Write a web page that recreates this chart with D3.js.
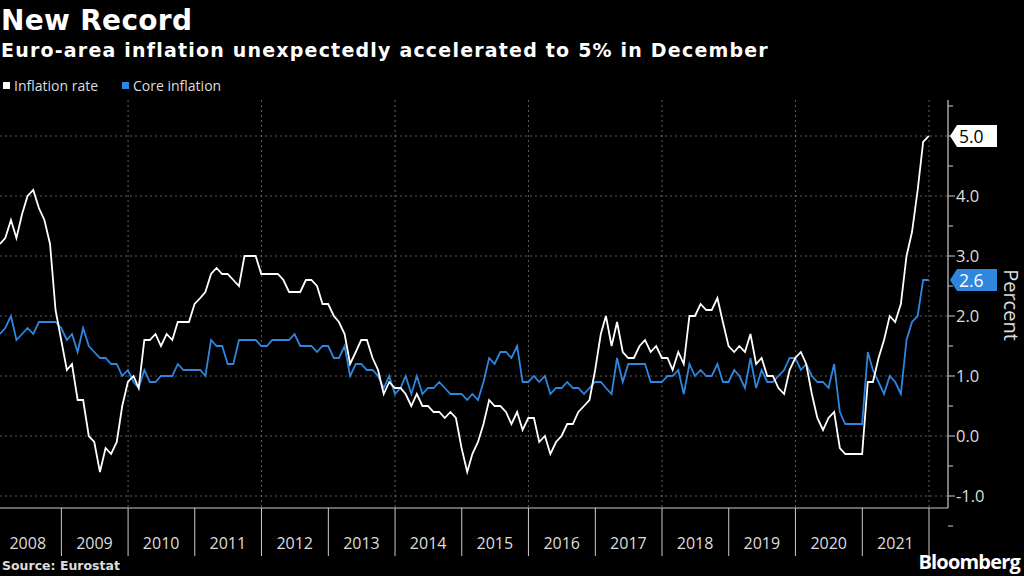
<!DOCTYPE html>
<html><head><meta charset="utf-8">
<script src="https://cdn.jsdelivr.net/npm/d3@7"></script>
<style>body{margin:0;background:#000}svg{display:block}</style>
</head><body><svg id="c" width="1024" height="576"></svg>
<script>
const years = [2008,2009,2010,2011,2012,2013,2014,2015,2016,2017,2018,2019,2020,2021];
const headline = [
 3.2,3.3,3.6,3.3,3.7,4.0,4.1,3.8,3.6,3.2,2.1,1.6,
 1.1,1.2,0.6,0.6,0.0,-0.1,-0.6,-0.2,-0.3,-0.1,0.5,0.9,
 1.0,0.8,1.6,1.6,1.7,1.5,1.7,1.6,1.9,1.9,1.9,2.2,
 2.3,2.4,2.7,2.8,2.7,2.7,2.6,2.5,3.0,3.0,3.0,2.7,
 2.7,2.7,2.7,2.6,2.4,2.4,2.4,2.6,2.6,2.5,2.2,2.2,
 2.0,1.9,1.7,1.2,1.4,1.6,1.6,1.3,1.1,0.7,0.9,0.8,
 0.8,0.7,0.5,0.7,0.5,0.5,0.4,0.4,0.3,0.4,0.3,-0.2,
 -0.6,-0.3,-0.1,0.2,0.6,0.5,0.5,0.4,0.2,0.4,0.1,0.3,
 0.3,-0.1,0.0,-0.3,-0.1,0.0,0.2,0.2,0.4,0.5,0.6,1.1,
 1.7,2.0,1.5,1.9,1.4,1.3,1.3,1.5,1.6,1.4,1.5,1.3,
 1.3,1.1,1.4,1.2,2.0,2.0,2.2,2.1,2.1,2.3,1.9,1.5,
 1.4,1.5,1.4,1.7,1.2,1.3,1.0,1.0,0.8,0.7,1.1,1.3,
 1.4,1.2,0.7,0.3,0.1,0.3,0.4,-0.2,-0.3,-0.3,-0.3,-0.3,
 0.9,0.9,1.3,1.6,2.0,1.9,2.2,3.0,3.4,4.1,4.9,5.0];
const core = [
 1.7,1.8,2.0,1.6,1.7,1.8,1.7,1.9,1.9,1.9,1.9,1.8,
 1.6,1.7,1.4,1.8,1.5,1.4,1.3,1.3,1.2,1.2,1.0,1.1,
 0.9,0.8,1.1,0.9,0.9,1.0,1.0,1.0,1.2,1.1,1.1,1.1,
 1.1,1.0,1.6,1.5,1.5,1.2,1.2,1.6,1.6,1.6,1.6,1.5,
 1.5,1.6,1.6,1.6,1.6,1.7,1.5,1.5,1.5,1.4,1.5,1.5,
 1.3,1.3,1.5,1.0,1.2,1.2,1.1,1.1,1.0,0.8,1.0,0.7,
 0.8,1.0,0.7,1.0,0.7,0.8,0.8,0.9,0.8,0.7,0.7,0.7,
 0.6,0.7,0.6,0.9,1.3,1.2,1.4,1.4,1.3,1.5,0.9,0.9,
 1.0,0.9,1.0,0.7,0.8,0.8,0.9,0.8,0.8,0.7,0.8,0.9,
 0.9,0.8,0.7,1.3,0.9,1.2,1.2,1.2,1.2,0.9,0.9,0.9,
 1.0,1.0,1.1,0.7,1.2,1.0,1.1,1.0,1.0,1.2,0.9,0.9,
 1.1,1.0,0.8,1.3,0.8,1.1,0.9,0.9,1.0,1.1,1.3,1.3,
 1.1,1.2,1.0,0.9,0.9,0.8,1.2,0.4,0.2,0.2,0.2,0.2,
 1.4,1.1,0.9,0.7,1.0,0.9,0.7,1.6,1.9,2.0,2.6,2.6];
const yTicks = [-1,0,1,2,3,4,5];

const svg = d3.select("#c");
const F = "'Open Sans','Liberation Sans',Arial,sans-serif";
const FB = "'DejaVu Sans',Verdana,sans-serif";
const x = d3.scaleTime().domain([new Date(2008,0,1), new Date(2022,0,1)]).range([-5.5,929]);
const y = d3.scaleLinear().domain([-1,5]).range([496,136]);
const dateOf = i => new Date(2008+Math.floor(i/12), i%12+1, 0);
const pts = arr => arr.map((v,i)=>[dateOf(i), v]);

svg.append("rect").attr("width",1024).attr("height",576).attr("fill","#000");
svg.append("text").attr("x",1).attr("y",30).attr("fill","#fff").attr("font-family",FB).attr("font-weight","bold").attr("font-size",28).attr("letter-spacing",0.3).text("New Record");
svg.append("text").attr("x",1).attr("y",57).attr("fill","#fff").attr("font-family",FB).attr("font-weight","bold").attr("font-size",19).attr("letter-spacing",1.2).text("Euro-area inflation unexpectedly accelerated to 5% in December");
const lg = svg.append("g").attr("font-family",F).attr("font-size",14).attr("fill","#ddd");
lg.append("rect").attr("x",3).attr("y",82).attr("width",7).attr("height",7).attr("fill","#fff");
lg.append("text").attr("x",14).attr("y",91).text("Inflation rate");
lg.append("rect").attr("x",122).attr("y",82).attr("width",7).attr("height",7).attr("fill","#2e86de");
lg.append("text").attr("x",133).attr("y",91).text("Core inflation");

const g = svg.append("g");
g.selectAll(".hg").data(yTicks).join("line").attr("x1",0).attr("x2",948).attr("y1",d=>y(d)).attr("y2",d=>y(d))
 .attr("stroke","#777").attr("stroke-width",0.8).attr("stroke-dasharray","2,3");
const vg = [2010,2012,2014,2016,2018,2020,2022];
g.selectAll(".vg").data(vg).join("line").attr("x1",d=>x(new Date(d,0,1))).attr("x2",d=>x(new Date(d,0,1))).attr("y1",100).attr("y2",508)
 .attr("stroke","#777").attr("stroke-width",0.8).attr("stroke-dasharray","2,3");

const ya = svg.append("g").attr("transform","translate(948,0)");
ya.append("line").attr("y1",100).attr("y2",508).attr("stroke","#ccc").attr("stroke-width",1.2);
const minor = d3.range(-1.5,5.6,0.5);
ya.selectAll(".t").data(minor).join("line").attr("x1",0).attr("x2",d=>Number.isInteger(d)?7:5).attr("y1",d=>y(d)).attr("y2",d=>y(d)).attr("stroke","#ccc");
ya.selectAll(".l").data(yTicks.filter(d=>d!==5)).join("text").attr("x",8).attr("y",d=>y(d)+6).attr("fill","#ddd").attr("font-family",F).attr("font-size",16.5).text(d=>d.toFixed(1));
svg.append("text").attr("transform","translate(1004,305) rotate(90)").attr("text-anchor","middle").attr("fill","#ddd").attr("font-family",F).attr("font-size",20).text("Percent");

const xa = svg.append("g");
xa.append("line").attr("x1",0).attr("x2",948).attr("y1",508).attr("y2",508).attr("stroke","#ccc");
xa.selectAll(".sep").data(years.slice(1).concat([2022])).join("line").attr("x1",d=>x(new Date(d,0,1))).attr("x2",d=>x(new Date(d,0,1))).attr("y1",508).attr("y2",556).attr("stroke","#ccc");
xa.selectAll(".yl").data(years).join("text").attr("x",d=>x(new Date(d,6,1))).attr("y",549).attr("text-anchor","middle").attr("fill","#ddd").attr("font-family",F).attr("font-size",16).text(d=>d);

const line = d3.line().x(d=>x(d[0])).y(d=>y(d[1]));
svg.append("path").datum(pts(core)).attr("d",line).attr("fill","none").attr("stroke","#2e86de").attr("stroke-width",1.8);
svg.append("path").datum(pts(headline)).attr("d",line).attr("fill","none").attr("stroke","#fff").attr("stroke-width",1.8);

function tag(v,bg,fg){
  const yy=y(v);
  svg.append("path").attr("d",`M950,${yy} L957,${yy-11} L997,${yy-11} L997,${yy+11} L957,${yy+11} Z`).attr("fill",bg);
  svg.append("text").attr("x",959).attr("y",yy+6.5).attr("fill",fg).attr("font-family",F).attr("font-size",17.5).text(v.toFixed(1));
}
tag(headline[headline.length-1],"#fff","#000");
tag(core[core.length-1],"#2e86de","#fff");

svg.append("text").attr("x",2).attr("y",570).attr("fill","#ddd").attr("font-family",FB).attr("font-weight","bold").attr("font-size",12.5).text("Source: Eurostat");
svg.append("text").attr("x",1020).attr("y",569).attr("text-anchor","end").attr("fill","#fff").attr("font-family",F).attr("font-weight","bold").attr("font-size",20).attr("letter-spacing",-0.8).text("Bloomberg");
</script></body></html>
